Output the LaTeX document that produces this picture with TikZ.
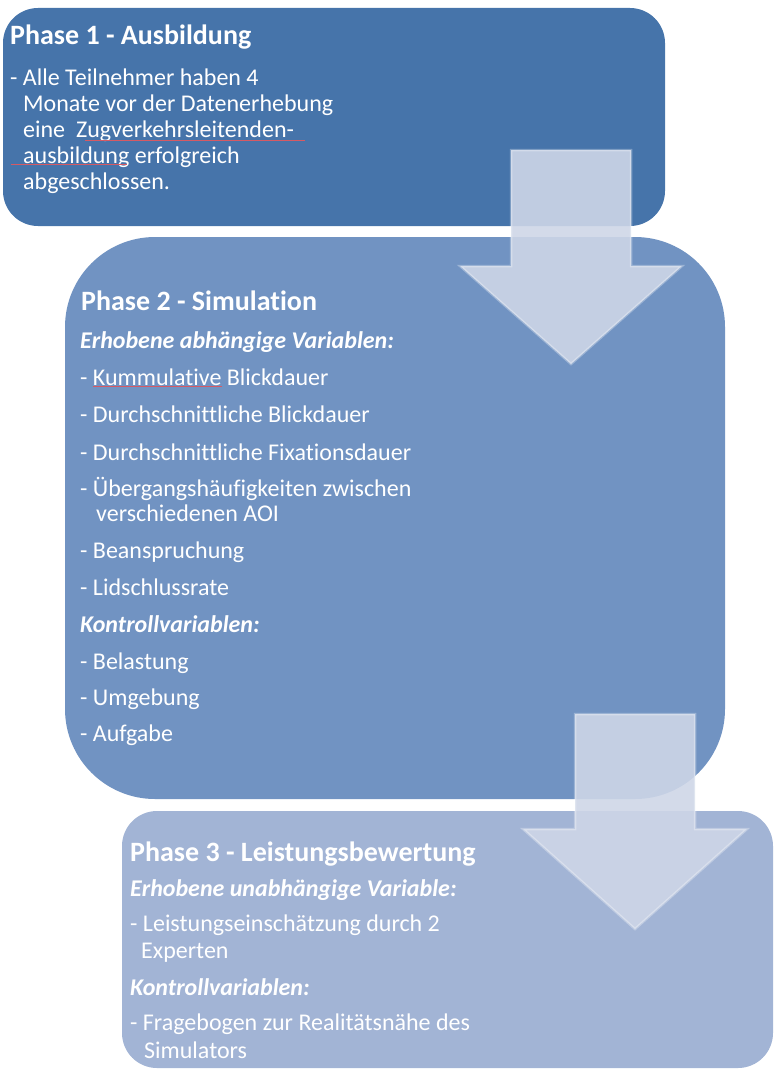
\documentclass[tikz,border=0pt]{standalone}
\usepackage{fontspec}
\setmainfont[Ligatures={NoCommon}]{Carlito}
\definecolor{boxA}{RGB}{70,116,170}
\definecolor{boxB}{RGB}{113,147,194}
\definecolor{boxC}{RGB}{162,180,213}
\definecolor{arrowfill}{RGB}{206,214,231}
\definecolor{spell}{RGB}{214,90,100}
\tikzset{
  phasebox/.style={draw=none, rounded corners=#1},
  flowarrow/.style={fill=arrowfill, fill opacity=0.9, draw=white, draw opacity=0.3, line width=2.5pt, line join=miter},
  txt/.style={anchor=base west, inner sep=0pt, text=white, font=\fontsize{24}{26}\selectfont},
  ttl/.style={txt, font=\fontsize{28}{32}\selectfont\bfseries},
  hd/.style={txt, font=\fontsize{24}{26}\selectfont\bfseries\itshape},
  squiggle/.style={draw=spell, line width=0.8pt}
}
\begin{document}
\begin{tikzpicture}[x=1pt, y=-1pt]
\useasboundingbox (0,0) rectangle (774,1070);

% Phase 1 box
\fill[boxA, phasebox=35pt] (3,8) rectangle (665,226);
% Phase 2 box
\fill[boxB, phasebox=90pt] (65,237) rectangle (725,799);
% arrow from phase 1 to phase 2
\path[flowarrow] (511,150) -- (631,150) -- (631,266) -- (682,266) -- (571,364) -- (460,266) -- (511,266) -- cycle;
% Phase 3 box
\fill[boxC, phasebox=35pt] (122,811) rectangle (773,1068);
% arrow from phase 2 to phase 3
\path[flowarrow] (575,714) -- (695,714) -- (695,829) -- (747,829) -- (635,929) -- (523,829) -- (575,829) -- cycle;

% Phase 1 text
\node[ttl] (t1) at (10,45) {Phase 1 - Ausbildung};
\node[txt] (p1a) at (10,86) {- Alle Teilnehmer haben 4};
\node[txt] (p1b) at (23,111.5) {Monate vor der Datenerhebung};
\node[txt] (p1c) at (23,137) {eine\ \ Zugverkehrsleitenden-};
\node[txt] (p1d) at (23,163) {ausbildung erfolgreich};
\node[txt] (p1e) at (23,189) {abgeschlossen.};
\draw[squiggle] (85,140) -- (305,140);
\draw[squiggle] (11,164.5) -- (127,164.5);

% Phase 2 text
\node[ttl] (t2) at (81,310) {Phase 2 - Simulation};
\node[hd] (h2a) at (80,348) {Erhobene abhängige Variablen:};
\node[txt] (p2a) at (80,385) {- Kummulative Blickdauer};
\draw[squiggle] (93,386) -- (222,386);
\node[txt] (p2b) at (80,422.5) {- Durchschnittliche Blickdauer};
\node[txt] (p2c) at (80,460) {- Durchschnittliche Fixationsdauer};
\node[txt] (p2d) at (80,496.5) {- Übergangshäufigkeiten zwischen};
\node[txt] (p2e) at (96,521.5) {verschiedenen AOI};
\node[txt] (p2f) at (80,558.5) {- Beanspruchung};
\node[txt] (p2g) at (80,595) {- Lidschlussrate};
\node[hd] (h2b) at (80,632) {Kontrollvariablen:};
\node[txt] (p2h) at (80,669) {- Belastung};
\node[txt] (p2i) at (80,705) {- Umgebung};
\node[txt] (p2j) at (80,741) {- Aufgabe};

% Phase 3 text
\node[ttl] (t3) at (130,861.5) {Phase 3 - Leistungsbewertung};
\node[hd] (h3a) at (130,896.5) {Erhobene unabhängige Variable:};
\node[txt] (p3a) at (130,931.5) {- Leistungseinschätzung durch 2};
\node[txt] (p3b) at (141,958) {Experten};
\node[hd] (h3b) at (130,995) {Kontrollvariablen:};
\node[txt] (p3c) at (130,1030) {- Fragebogen zur Realitätsnähe des};
\node[txt] (p3d) at (144,1058) {Simulators};
\end{tikzpicture}
\end{document}
